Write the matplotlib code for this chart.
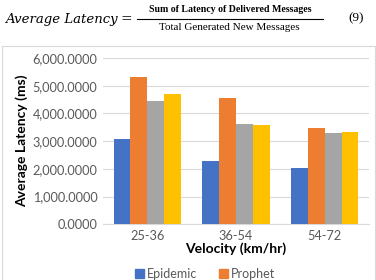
import numpy as np
import matplotlib.pyplot as plt
from matplotlib.patches import Rectangle
from matplotlib.lines import Line2D

# data
velocity = ['25-36', '36-54', '54-72']
epidemic = [3090, 2280, 2020]
prophet = [5310, 4570, 3490]
series3 = [4450, 3610, 3310]
series4 = [4710, 3600, 3330]
legend_names = ['Epidemic', 'Prophet']
yticks = [0, 1000, 2000, 3000, 4000, 5000, 6000]

colors = ['#4472C4', '#ED7D31', '#A5A5A5', '#FFC000']

plt.rcParams['font.family'] = ['Lato', 'DejaVu Sans']

fig = plt.figure(figsize=(3.76, 2.80), dpi=100)

# equation above the chart
fig.text(5/376, 1-19/280, 'Average Latency', family='DejaVu Serif', style='italic',
         fontsize=9.5, va='center', ha='left')
fig.text(126/376, 1-19/280, '=', family='DejaVu Serif', fontsize=10, va='center', ha='center')
fig.text(230/376, 1-10/280, 'Sum of Latency of Delivered Messages', family='Liberation Serif',
         fontsize=7.1, va='center', ha='center', fontweight='bold')
fig.text(229/376, 1-28/280, 'Total Generated New Messages', family='Liberation Serif',
         fontsize=8.0, va='center', ha='center')
fig.add_artist(Line2D([137/376, 323/376], [1-19/280, 1-19/280], color='black', lw=0.8))
fig.text(356/376, 1-18/280, '(9)', family='Liberation Serif', fontsize=9.5, va='center', ha='center')

# chart frame
fig.add_artist(Rectangle((2/376, -0.01), 373/376, 1-46/280 + 0.01, transform=fig.transFigure,
                         fill=False, edgecolor='#D9D9D9', lw=0.8))

ax = fig.add_axes([103/376, 1-224.3/280, 266/376, (224.3-58)/280])

x = np.arange(len(velocity))
w = 0.19
for i, vals in enumerate([epidemic, prophet, series3, series4]):
    ax.bar(x + (i - 1.5) * w, vals, w, color=colors[i], zorder=3)

ax.set_xlim(-0.5, 2.5)
ax.set_ylim(0, 6000)
ax.set_yticks(yticks)
ax.set_yticklabels(['{:,.4f}'.format(v) for v in yticks])
ax.set_xticks(x)
ax.set_xticklabels(velocity)
ax.tick_params(length=0, labelsize=9.2, colors='#595959', pad=4)
ax.yaxis.grid(True, color='#D9D9D9', lw=0.8, zorder=0)
for s in ['top', 'right', 'left']:
    ax.spines[s].set_visible(False)
ax.spines['bottom'].set_color('#D9D9D9')

ax.set_xlabel('Velocity (km/hr)', fontsize=10, fontweight='bold', labelpad=0)
ax.set_ylabel('Average Latency (ms)', fontsize=10, fontweight='bold', labelpad=3)

handles = [Rectangle((0, 0), 1, 1, color=c) for c in colors[:2]]
fig.legend(handles, legend_names, loc='center', bbox_to_anchor=(205/376, 1-274/280),
           ncol=2, frameon=False, fontsize=9, handlelength=0.7, handleheight=0.7,
           handletextpad=0.2, columnspacing=1.8, labelcolor='#595959')

fig.savefig('out.png', dpi=100)
